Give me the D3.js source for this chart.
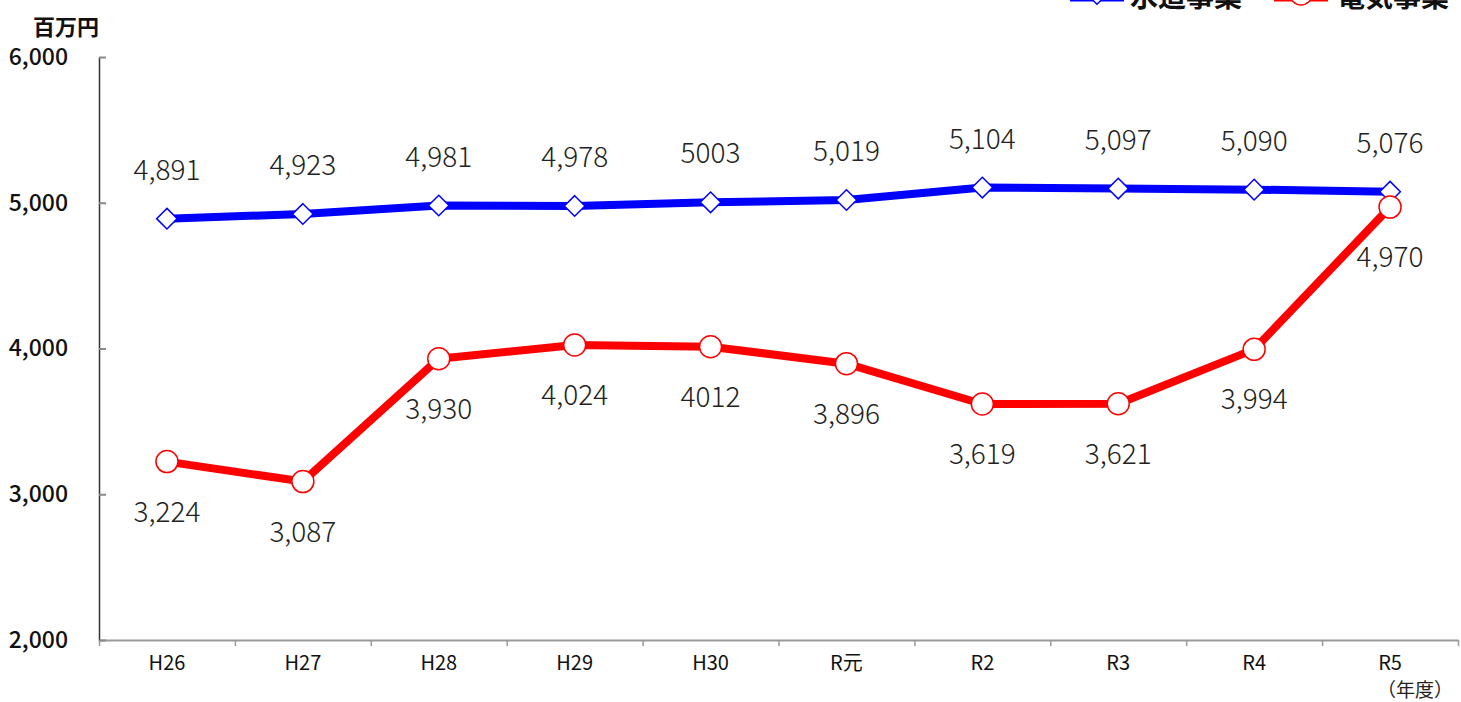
<!DOCTYPE html>
<html>
<head>
<meta charset="utf-8">
<script src="https://cdn.jsdelivr.net/npm/d3@7/dist/d3.min.js"></script>
<style>
  body { margin: 0; background: #fff; }
  svg text { font-family: "Noto Sans CJK JP", "Noto Sans", sans-serif; }
</style>
</head>
<body>
<div id="graph"></div>
<script>
// The data...
var categories  = [ 'H26', 'H27', 'H28', 'H29', 'H30', 'R元', 'R2', 'R3', 'R4', 'R5' ];
var waterValues = [ 4891, 4923, 4981, 4978, 5003, 5019, 5104, 5097, 5090, 5076 ];
var waterLabels = [ '4,891', '4,923', '4,981', '4,978', '5003', '5,019', '5,104', '5,097', '5,090', '5,076' ];
var elecValues  = [ 3224, 3087, 3930, 4024, 4012, 3896, 3619, 3621, 3994, 4970 ];
var elecLabels  = [ '3,224', '3,087', '3,930', '4,024', '4012', '3,896', '3,619', '3,621', '3,994', '4,970' ];
var seriesNames = [ '水道事業', '電気事業' ];
var yTicks      = [ 2000, 3000, 4000, 5000, 6000 ];

var colours = [ '#0000ff', '#ff0000' ];

var W = 1461, H = 702;
var plot = { left: 99, right: 1458, top: 57, bottom: 640 };

var svg = d3.select ('#graph').append ('svg')
            .attr ('width', W)
            .attr ('height', H);

var xScale = d3.scaleBand ()
               .domain (categories)
               .range ([ plot.left, plot.right ])
               .paddingInner (0);

var xIdx = d3.scaleLinear ()
             .domain ([ 0, categories.length ])
             .range ([ plot.left, plot.right ]);

var yScale = d3.scaleLinear ()
               .domain ([ 2000, 6000 ])
               .range ([ plot.bottom, plot.top ]);

function cx (i) { return xScale (categories[i]) + xScale.bandwidth () / 2; }

// x axis: boundary ticks
var xg = svg.append ('g')
            .attr ('transform', 'translate(0,' + plot.bottom + ')')
            .call (d3.axisBottom (xIdx).tickValues (d3.range (categories.length + 1))
                     .tickFormat ('').tickSize (6).tickSizeOuter (0));
xg.select ('.domain').attr ('stroke', '#9a9a9a').attr ('stroke-width', 2);
xg.selectAll ('.tick line').attr ('stroke', '#9a9a9a').attr ('stroke-width', 1.5);

// x axis labels
var xl = svg.append ('g')
            .attr ('transform', 'translate(0,' + plot.bottom + ')')
            .call (d3.axisBottom (xScale).tickSize (0).tickPadding (16));
xl.select ('.domain').remove ();
xl.selectAll ('text')
  .attr ('font-size', '20px')
  .attr ('fill', '#111')
  .style ('font-family', '"Noto Sans CJK JP", sans-serif');

// y axis
var yg = svg.append ('g')
            .attr ('transform', 'translate(' + plot.left + ',0)')
            .call (d3.axisLeft (yScale).tickValues (yTicks)
                     .tickFormat (d3.format (',')).tickSizeInner (-7).tickSizeOuter (0).tickPadding (31));
yg.select ('.domain').attr ('stroke', '#333').attr ('stroke-width', 1.5);
yg.selectAll ('.tick line').attr ('stroke', '#888').attr ('stroke-width', 2);
yg.selectAll ('text')
  .attr ('font-size', '23px')
  .attr ('font-weight', 500)
  .attr ('fill', '#111')
  .style ('font-family', '"Noto Sans CJK JP", sans-serif');

// unit labels
svg.append ('text')
   .attr ('x', 33).attr ('y', 35)
   .attr ('font-size', '22px').attr ('font-weight', 'bold').attr ('fill', '#111')
   .text ('百万円');

svg.append ('text')
   .attr ('x', 1453).attr ('y', 697)
   .attr ('text-anchor', 'end')
   .attr ('font-size', '19px').attr ('fill', '#222')
   .text ('（年度）');

var line = d3.line ()
             .x (function (d, i) { return cx (i); })
             .y (function (d) { return yScale (d); });

var diamond = d3.symbol ().type (d3.symbolDiamond2).size (270);

var series = [ waterValues, elecValues ];
var labels = [ waterLabels, elecLabels ];
var offsets = [ -49, 50 ];

for (var s = 0; s < 2; s++)
{
    svg.append ('path')
       .datum (series[s])
       .attr ('d', line)
       .attr ('fill', 'none')
       .attr ('stroke', colours[s])
       .attr ('stroke-width', 8)
       .attr ('stroke-linejoin', 'round');
}

// markers
svg.selectAll ('.water')
   .data (waterValues).enter ()
   .append ('path')
   .attr ('transform', function (d, i) { return 'translate(' + cx (i) + ',' + yScale (d) + ')'; })
   .attr ('d', diamond)
   .attr ('fill', '#fff')
   .attr ('stroke', colours[0])
   .attr ('stroke-width', 1.5);

svg.selectAll ('.elec')
   .data (elecValues).enter ()
   .append ('circle')
   .attr ('cx', function (d, i) { return cx (i); })
   .attr ('cy', function (d) { return yScale (d); })
   .attr ('r', 11)
   .attr ('fill', '#fff')
   .attr ('stroke', colours[1])
   .attr ('stroke-width', 1.5);

// data labels
for (var s = 0; s < 2; s++)
{
    for (var i = 0; i < series[s].length; i++)
    {
        svg.append ('text')
           .attr ('x', cx (i))
           .attr ('y', yScale (series[s][i]) + offsets[s])
           .attr ('dy', '0.36em')
           .attr ('text-anchor', 'middle')
           .attr ('font-size', '28px')
           .attr ('font-weight', 300)
           .attr ('fill', '#222')
           .text (labels[s][i]);
    }
}

// legend (cut off at top, as in the original)
var legend = [ { x: 1070, tx: 1130 }, { x: 1274, tx: 1337 } ];
for (var s = 0; s < 2; s++)
{
    var lg = svg.append ('g');
    lg.append ('line')
      .attr ('x1', legend[s].x).attr ('x2', legend[s].x + 54)
      .attr ('y1', 0).attr ('y2', 0)
      .attr ('stroke', colours[s]).attr ('stroke-width', 3);
    if (s == 0)
        lg.append ('path')
          .attr ('transform', 'translate(' + (legend[s].x + 27) + ',-6)')
          .attr ('d', diamond)
          .attr ('fill', '#fff').attr ('stroke', colours[0]).attr ('stroke-width', 1.5);
    else
        lg.append ('circle')
          .attr ('cx', legend[s].x + 27).attr ('cy', -6).attr ('r', 11)
          .attr ('fill', '#fff').attr ('stroke', colours[1]).attr ('stroke-width', 1.5);
    lg.append ('text')
      .attr ('x', legend[s].tx).attr ('y', 7)
      .attr ('font-size', '28px').attr ('font-weight', 'bold').attr ('fill', '#111')
      .text (seriesNames[s]);
}
</script>
</body>
</html>
